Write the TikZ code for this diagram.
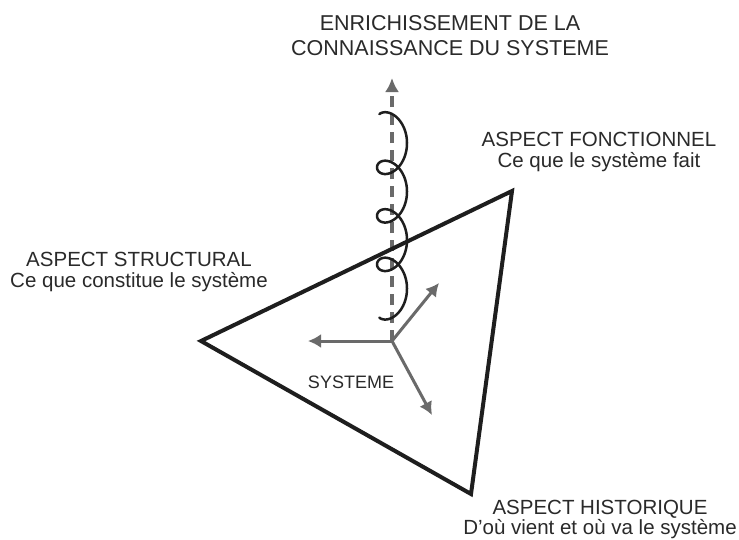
\documentclass[tikz,border=0pt]{standalone}
\usepackage{fontspec}
\setmainfont{Liberation Sans}
\usetikzlibrary{arrows.meta}
\definecolor{txt}{HTML}{2A2A2A}
\definecolor{arr}{HTML}{6A6A6A}
\definecolor{edge}{HTML}{1E1E1E}
\begin{document}
\begin{tikzpicture}[x=1pt,y=-1pt,
  lbl/.style={text=txt, align=center, inner sep=0pt, anchor=north},
  garrow/.style={draw=arr, line width=3pt, line cap=round, -{Latex[length=13pt,width=14pt]}},
  dasharrow/.style={draw=arr, line width=3.5pt, dash pattern=on 11pt off 7pt, -{Latex[length=14pt,width=14pt]}},
  tri/.style={draw=edge, line width=4pt, line join=miter},
  helix/.style={draw=edge, line width=2.5pt, line cap=round}]
\useasboundingbox (0,0) rectangle (739,539);
\fill[white] (0,0) rectangle (739,539);
% key points
\coordinate (L) at (201,341);
\coordinate (T) at (512,191);
\coordinate (B) at (471,494);
\coordinate (O) at (392,341);
\coordinate (a1) at (308,341);
\coordinate (a2) at (439,283);
\coordinate (a3) at (432,415);
\coordinate (top) at (392,78);
% vertical dashed arrow
\draw[dasharrow] (O) -- (top);
% triangle
\draw[tri] (L) -- (T) -- (B) -- cycle;
% helix
\draw[helix] plot[domain=-1.0:23.0, samples=500, smooth]
  ({392+15*sin(\x r)}, {131+48.5*\x/6.2832-17*cos(\x r)});
% three grey arrows
\draw[garrow] (O) -- (a1);
\draw[garrow] (O) -- (a2);
\draw[garrow] (O) -- (a3);
% labels
\node[lbl, font=\fontsize{21.5}{25}\selectfont] (title) at (450,15)
  {ENRICHISSEMENT DE LA\\CONNAISSANCE DU SYSTEME};
\node[lbl, font=\fontsize{20.5}{21}\selectfont] (fonct) at (599,132)
  {ASPECT FONCTIONNEL\\Ce que le système fait};
\node[lbl, font=\fontsize{20.5}{21}\selectfont] (struct) at (139,252)
  {ASPECT STRUCTURAL\\Ce que constitue le système};
\node[lbl, font=\fontsize{20.5}{17.5}\selectfont] (hist) at (600,500)
  {ASPECT HISTORIQUE\\D’où vient et où va le système};
\node[lbl, font=\fontsize{18}{20}\selectfont] (sys) at (351,376) {SYSTEME};
\end{tikzpicture}
\end{document}
